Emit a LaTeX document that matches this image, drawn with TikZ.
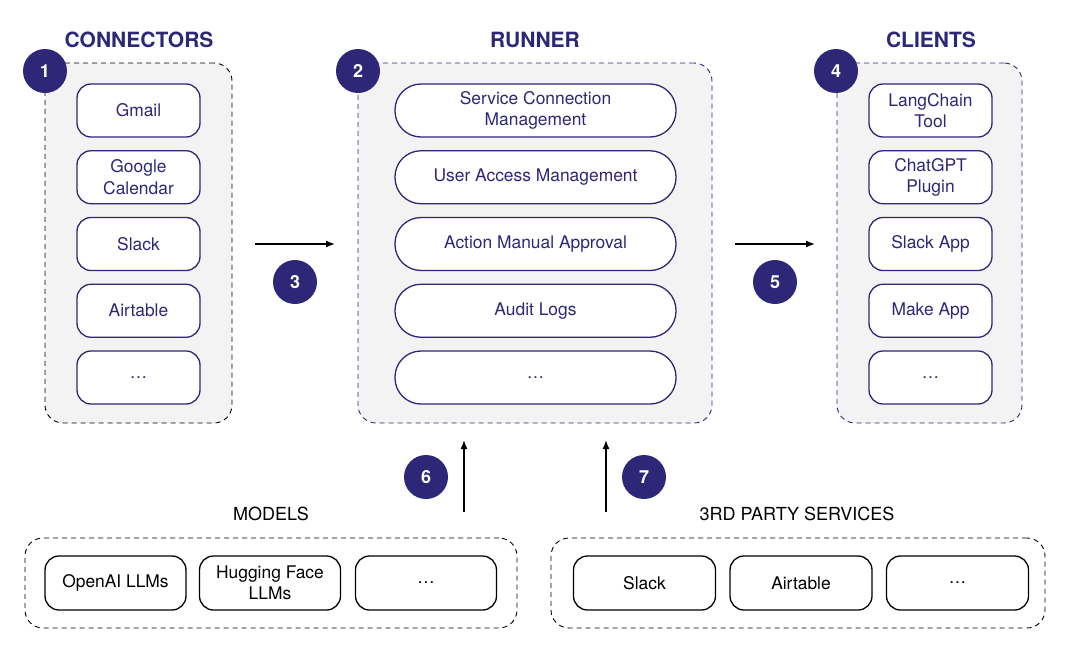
\documentclass[tikz,border=0pt]{standalone}
\usepackage{fontspec}
\setmainfont{TeX Gyre Heros}
\usepackage{tikz}
\usetikzlibrary{arrows.meta, positioning, calc}
\definecolor{ink}{RGB}{46,39,120}
\definecolor{panelgray}{RGB}{243,243,243}

\tikzset{
  panel/.style = {draw, dash pattern = on 5pt off 4pt, rounded corners = 18pt, fill = panelgray, line width = 0.9pt},
  item/.style = {draw = ink, text = ink, fill = white, rounded corners = 14pt, line width = 1.3pt,
    minimum width = 123pt, minimum height = 53pt, align = center, font = \fontsize{17.4}{21.5}\selectfont},
  wideitem/.style = {item, rounded corners = 26pt, minimum width = 281pt},
  plainitem/.style = {item, draw = black, text = black, minimum width = 141pt, minimum height = 54pt},
  badge/.style = {circle, fill = ink, text = white, minimum size = 44pt, inner sep = 0pt, font = \fontsize{18}{18}\selectfont\bfseries},
  title/.style = {text = ink, font = \fontsize{21}{21}\selectfont\bfseries},
  label/.style = {font = \fontsize{18}{18}\selectfont},
  flow/.style = {-{Latex[length = 9pt, width = 7pt]}, line width = 1.4pt}
}

\begin{document}
\begin{tikzpicture}[x = 1pt, y = -1pt]
\useasboundingbox (0, 0) rectangle (1070, 656);

% panels
\node[panel, minimum width = 187pt, minimum height = 360pt] at (138.5, 243) (connectors) {};
\node[panel, draw = ink, minimum width = 354pt, minimum height = 360pt] at (535, 243) (runner) {};
\node[panel, draw = ink, minimum width = 185pt, minimum height = 360pt] at (929.5, 243) (clients) {};
\node[panel, fill = white, minimum width = 492pt, minimum height = 90pt] at (271, 583) (models) {};
\node[panel, fill = white, minimum width = 494pt, minimum height = 90pt] at (798, 583) (services) {};

% titles
\node[title] at (139, 40) (tconnectors) {CONNECTORS};
\node[title] at (535, 40) (trunner) {RUNNER};
\node[title] at (931, 40) (tclients) {CLIENTS};
\node[label] at (271, 514) (tmodels) {MODELS};
\node[label] at (797, 514) (tservices) {3RD PARTY SERVICES};

% boxes
\foreach \txt [count = \i] in {Gmail, {Google\\Calendar}, Slack, Airtable, \ldots}{
\node[item] at (138.5, 43.75 + 66.75*\i) (c\i) {\txt};}
\foreach \txt [count = \i] in {{Service Connection\\Management}, User Access Management, Action Manual Approval, Audit Logs, \ldots}{
\node[wideitem] at (535.5, 43.75 + 66.75*\i) (r\i) {\txt};}
\foreach \txt [count = \i] in {{LangChain\\Tool}, {ChatGPT\\Plugin}, Slack App, Make App, \ldots}{
\node[item] at (930.5, 43.75 + 66.75*\i) (k\i) {\txt};}
\foreach \x/\txt [count = \i] in {115.5/OpenAI LLMs, 270/{Hugging Face\\LLMs}, 426/\ldots}{
\node[plainitem] at (\x, 583) (m\i) {\txt};}
\foreach \x/\txt [count = \i] in {644.5/Slack, 801/Airtable, 957.5/\ldots}{
\node[plainitem, minimum width = 142pt] at (\x, 583) (s\i) {\txt};}

% badges
\node[badge] at (45, 71) (b1) {1};
\node[badge] at (358, 71) (b2) {2};
\node[badge] at (295, 282) (b3) {3};
\node[badge] at (836, 71) (b4) {4};
\node[badge] at (775, 282) (b5) {5};
\node[badge] at (426, 477) (b6) {6};
\node[badge] at (644, 477) (b7) {7};

% arrows
\coordinate (a3) at (255, 244);
\coordinate (a5) at (735, 244);
\coordinate (a6) at (464, 512);
\coordinate (a7) at (606, 512);
\draw[flow] (a3) -- ++(80, 0) coordinate (e3);
\draw[flow] (a5) -- ++(80, 0) coordinate (e5);
\draw[flow] (a6) -- ++(0, -72) coordinate (e6);
\draw[flow] (a7) -- ++(0, -72) coordinate (e7);
\end{tikzpicture}
\end{document}
